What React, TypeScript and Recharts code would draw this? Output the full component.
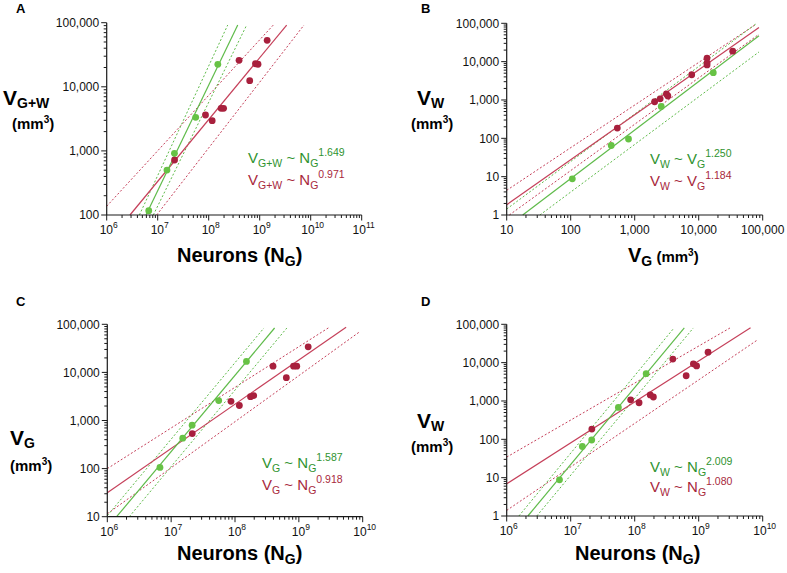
import React from 'react';
import { ScatterChart, Scatter, XAxis, YAxis, ReferenceLine } from 'recharts';

// ---------------- data ----------------
const neuronsGreen = [6.68e6, 1.52e7, 2.13e7, 5.56e7, 1.51e8];
const vgGreen = [106, 430, 800, 2600, 16900];
const vwGreen = [8.8, 65, 96, 680, 5150];
const vgwGreen = [117, 503, 916, 3337, 22400];

const neuronsRed = [2.14e7, 8.65e7, 1.17e8, 1.75e8, 1.96e8, 3.94e8, 6.37e8, 8.26e8, 9.27e8, 1.4e9];
const vgRed = [535, 2500, 2050, 3130, 3300, 13500, 7780, 13500, 13500, 34000];
const vwRed = [185, 1070, 900, 1435, 1270, 12400, 4550, 9300, 8200, 18700];
const vgwRed = [721, 3630, 2960, 4610, 4610, 25850, 12450, 22900, 22500, 53000];

// fit lines and confidence lines: [x, y] endpoints
const A_greenFit = [[5.89e6, 100], [3.71e8, 92000]];
const A_greenLo = [[4.37e6, 100], [2.36e8, 92000]];
const A_greenHi = [[8.2e6, 100], [5.56e8, 92000]];
const A_redFit = [[2.86e6, 100], [3.38e9, 92000]];
const A_redLo = [[1e6, 137], [1.85e9, 92000]];
const A_redHi = [[9.55e6, 100], [7.4e9, 92000]];

const B_greenFit = [[17.8, 1], [87500, 47500]];
const B_greenLo = [[10, 1.43], [79400, 97700]];
const B_greenHi = [[33, 1], [87500, 17900]];
const B_redFit = [[10, 1.85], [87500, 77600]];
const B_redLo = [[10, 4.4], [79400, 95500]];
const B_redHi = [[11, 1], [87500, 51800]];

const C_greenFit = [[1.4e6, 10], [4.17e8, 83800]];
const C_greenLo = [[1e6, 10.5], [2.84e8, 83800]];
const C_greenHi = [[2.21e6, 10], [6.49e8, 83800]];
const C_redFit = [[1e6, 31.6], [5.5e9, 87100]];
const C_redLo = [[1e6, 100], [3.02e9, 87100]];
const C_redHi = [[1e6, 11.5], [8.87e9, 69200]];

const D_greenFit = [[2.14e6, 1], [5.96e8, 80200]];
const D_greenLo = [[1.55e6, 1], [4.11e8, 80200]];
const D_greenHi = [[2.95e6, 1], [8.24e8, 80200]];
const D_redFit = [[1e6, 6.9], [6.46e9, 81300]];
const D_redLo = [[1e6, 34.4], [3.08e9, 80200]];
const D_redHi = [[1e6, 1.4], [8.24e9, 38900]];

// tick labels (major ticks)
const ticksNeuronsA = [1e6, 1e7, 1e8, 1e9, 1e10, 1e11];
const ticksNeurons = [1e6, 1e7, 1e8, 1e9, 1e10];
const ticksVolA = [100, 1000, 10000, 100000];
const ticksVolB_x = [10, 100, 1000, 10000, 100000];
const ticksVolB_y = [1, 10, 100, 1000, 10000, 100000];
const ticksVolC = [10, 100, 1000, 10000, 100000];
const ticksVolD = [1, 10, 100, 1000, 10000, 100000];

// ---------------- styles ----------------
const FONT = '"Liberation Sans", Arial, Helvetica, sans-serif';
const AXIS = '#1a1a1a';
const GREEN_DOT = '#67c245';
const GREEN_LINE = '#5fbb4a';
const GREEN_TEXT = '#2f932f';
const RED_DOT = '#a8203d';
const RED_LINE = '#c5405a';
const RED_TEXT = '#a8283c';

function withMinor(majors: number[]) {
  const out: number[] = [];
  majors.forEach((m, i) => {
    out.push(m);
    if (i < majors.length - 1) for (let k = 2; k < 10; k++) out.push(m * k);
  });
  return out;
}

const isMajor = (v: number) => {
  const lg = Math.log10(v);
  return Math.abs(lg - Math.round(lg)) < 1e-6;
};

const YTick = (props: any) => {
  const { x, y, payload } = props;
  const v = payload.value;
  const major = isMajor(v);
  return (
    <g>
      <line x1={x - (major ? 5.5 : 3)} x2={x} y1={y} y2={y} stroke={AXIS} strokeWidth={1} />
      {major && (
        <text x={x - 7.5} y={y} dy={4.3} textAnchor="end" fontSize={12} fontFamily={FONT} fill="#111">
          {v.toLocaleString('en-US')}
        </text>
      )}
    </g>
  );
};

const XTickPow = (props: any) => {
  const { x, y, payload } = props;
  const v = payload.value;
  const major = isMajor(v);
  return (
    <g>
      <line x1={x} x2={x} y1={y} y2={y + (major ? 5.5 : 3)} stroke={AXIS} strokeWidth={1} />
      {major && (
        <text x={x + 2} y={y + 19} textAnchor="middle" fontSize={12} fontFamily={FONT} fill="#111">
          10<tspan dy={-6} fontSize={8.5}>{Math.round(Math.log10(v))}</tspan>
        </text>
      )}
    </g>
  );
};

const XTickComma = (props: any) => {
  const { x, y, payload } = props;
  const v = payload.value;
  const major = isMajor(v);
  return (
    <g>
      <line x1={x} x2={x} y1={y} y2={y + (major ? 5.5 : 3)} stroke={AXIS} strokeWidth={1} />
      {major && (
        <text x={x} y={y + 19} textAnchor="middle" fontSize={12} fontFamily={FONT} fill="#111">
          {v.toLocaleString('en-US')}
        </text>
      )}
    </g>
  );
};

const dot = (color: string) => (p: any) => <circle cx={p.cx} cy={p.cy} r={3.4} fill={color} />;

type PanelProps = {
  left: number;
  top: number;
  width: number;
  height: number;
  margin: { top: number; right: number; bottom: number; left: number };
  xDomain: [number, number];
  yDomain: [number, number];
  xMajor: number[];
  yMajor: number[];
  xTick: any;
  green: { x: number; y: number }[];
  red: { x: number; y: number }[];
  greenLines: number[][][];
  redLines: number[][][];
};

function seg(s: number[][]) {
  return [{ x: s[0][0], y: s[0][1] }, { x: s[1][0], y: s[1][1] }];
}

function Panel(p: PanelProps) {
  const [gFit, gLo, gHi] = p.greenLines;
  const [rFit, rLo, rHi] = p.redLines;
  return (
    <div style={{ position: 'absolute', left: p.left, top: p.top }}>
      <ScatterChart width={p.width} height={p.height} margin={p.margin}>
        <XAxis
          type="number"
          dataKey="x"
          scale="log"
          domain={p.xDomain}
          allowDataOverflow
          ticks={withMinor(p.xMajor)}
          interval={0}
          tickSize={0}
          tickMargin={0}
          tickLine={false}
          tick={p.xTick}
          height={30}
          axisLine={{ stroke: AXIS, strokeWidth: 1.2 }}
        />
        <YAxis
          type="number"
          dataKey="y"
          scale="log"
          domain={p.yDomain}
          allowDataOverflow
          ticks={withMinor(p.yMajor)}
          interval={0}
          tickSize={0}
          tickMargin={0}
          tickLine={false}
          tick={YTick}
          width={60}
          axisLine={{ stroke: AXIS, strokeWidth: 1.2 }}
        />
        <ReferenceLine segment={seg(rLo)} stroke={RED_LINE} strokeWidth={1} strokeDasharray="2 2" ifOverflow="visible" />
        <ReferenceLine segment={seg(rHi)} stroke={RED_LINE} strokeWidth={1} strokeDasharray="2 2" ifOverflow="visible" />
        <ReferenceLine segment={seg(gLo)} stroke={GREEN_LINE} strokeWidth={1} strokeDasharray="2 2" ifOverflow="visible" />
        <ReferenceLine segment={seg(gHi)} stroke={GREEN_LINE} strokeWidth={1} strokeDasharray="2 2" ifOverflow="visible" />
        <ReferenceLine segment={seg(rFit)} stroke={RED_LINE} strokeWidth={1.2} ifOverflow="visible" />
        <ReferenceLine segment={seg(gFit)} stroke={GREEN_LINE} strokeWidth={1.2} ifOverflow="visible" />
        <Scatter data={p.red} fill={RED_DOT} shape={dot(RED_DOT)} isAnimationActive={false} />
        <Scatter data={p.green} fill={GREEN_DOT} shape={dot(GREEN_DOT)} isAnimationActive={false} />
      </ScatterChart>
    </div>
  );
}

const pts = (xs: number[], ys: number[]) => xs.map((x, i) => ({ x, y: ys[i] }));

const T = { fontFamily: FONT, whiteSpace: 'pre' as const };

function Eq({ x, y, color, lhs, lsub, rhs, rsub, exp }: any) {
  return (
    <text x={x} y={y} fontSize={15} fill={color} style={T}>
      {lhs}
      <tspan fontSize={10.5} dy={4}>{lsub}</tspan>
      <tspan dy={-4}>{' ~ ' + rhs}</tspan>
      <tspan fontSize={10.5} dy={4}>{rsub}</tspan>
      <tspan fontSize={10.5} dy={-11}>{exp}</tspan>
    </text>
  );
}

function YTitle({ x, y, sub, x2, y2 }: any) {
  return (
    <g>
      <text x={x} y={y} fontSize={21} fontWeight="bold" fill="#000" style={T}>
        V<tspan fontSize={14} dy={3}>{sub}</tspan>
      </text>
      <text x={x2} y={y2} fontSize={15} fontWeight="bold" fill="#000" style={T}>
        (mm<tspan fontSize={10} dy={-6}>3</tspan><tspan dy={6}>)</tspan>
      </text>
    </g>
  );
}

function NeuronsTitle({ x, y }: any) {
  return (
    <text x={x} y={y} fontSize={20} fontWeight="bold" fill="#000" style={T}>
      Neurons (N<tspan fontSize={14} dy={4}>G</tspan><tspan dy={-4}>)</tspan>
    </text>
  );
}

export default function App() {
  return (
    <div style={{ position: 'absolute', left: 0, top: 0, width: 787, height: 573, background: '#fff', overflow: 'hidden' }}>
      <Panel
        left={0}
        top={0}
        width={390}
        height={280}
        margin={{ top: 22.7, right: 28.3, bottom: 35, left: 46.7 }}
        xDomain={[1e6, 1e11]}
        yDomain={[100, 100000]}
        xMajor={ticksNeuronsA}
        yMajor={ticksVolA}
        xTick={XTickPow}
        green={pts(neuronsGreen, vgwGreen)}
        red={pts(neuronsRed, vgwRed)}
        greenLines={[A_greenFit, A_greenLo, A_greenHi]}
        redLines={[A_redFit, A_redLo, A_redHi]}
      />
      <Panel
        left={390}
        top={0}
        width={397}
        height={280}
        margin={{ top: 23.3, right: 24.3, bottom: 35, left: 56.7 }}
        xDomain={[10, 100000]}
        yDomain={[1, 100000]}
        xMajor={ticksVolB_x}
        yMajor={ticksVolB_y}
        xTick={XTickComma}
        green={pts(vgGreen, vwGreen)}
        red={pts(vgRed, vwRed)}
        greenLines={[B_greenFit, B_greenLo, B_greenHi]}
        redLines={[B_redFit, B_redLo, B_redHi]}
      />
      <Panel
        left={0}
        top={290}
        width={390}
        height={283}
        margin={{ top: 34.3, right: 27.3, bottom: 26.3, left: 47.3 }}
        xDomain={[1e6, 1e10]}
        yDomain={[10, 100000]}
        xMajor={ticksNeurons}
        yMajor={ticksVolC}
        xTick={XTickPow}
        green={pts(neuronsGreen, vgGreen)}
        red={pts(neuronsRed, vgRed)}
        greenLines={[C_greenFit, C_greenLo, C_greenHi]}
        redLines={[C_redFit, C_redLo, C_redHi]}
      />
      <Panel
        left={390}
        top={290}
        width={397}
        height={283}
        margin={{ top: 34.3, right: 24.3, bottom: 27, left: 56.7 }}
        xDomain={[1e6, 1e10]}
        yDomain={[1, 100000]}
        xMajor={ticksNeurons}
        yMajor={ticksVolD}
        xTick={XTickPow}
        green={pts(neuronsGreen, vwGreen)}
        red={pts(neuronsRed, vwRed)}
        greenLines={[D_greenFit, D_greenLo, D_greenHi]}
        redLines={[D_redFit, D_redLo, D_redHi]}
      />
      <svg width={787} height={573} style={{ position: 'absolute', left: 0, top: 0, pointerEvents: 'none' }}>
        <g fontFamily={FONT}>
          <text x={16} y={12.5} fontSize={13} fontWeight="bold" style={T}>A</text>
          <text x={421} y={12.5} fontSize={13} fontWeight="bold" style={T}>B</text>
          <text x={16} y={306} fontSize={13} fontWeight="bold" style={T}>C</text>
          <text x={421} y={306} fontSize={13} fontWeight="bold" style={T}>D</text>

          <YTitle x={3} y={105} sub="G+W" x2={12} y2={129} />
          <YTitle x={417} y={105} sub="W" x2={411} y2={129} />
          <YTitle x={10} y={444.5} sub="G" x2={10} y2={470.5} />
          <YTitle x={417} y={427.5} sub="W" x2={411} y2={451.5} />

          <NeuronsTitle x={177} y={262} />
          <NeuronsTitle x={177} y={560} />
          <NeuronsTitle x={575} y={560} />
          <text x={628} y={262} fontSize={20} fontWeight="bold" fill="#000" style={T}>
            V<tspan fontSize={14} dy={4}>G</tspan>
            <tspan fontSize={15} dy={-4}>{' (mm'}</tspan>
            <tspan fontSize={10} dy={-6}>3</tspan>
            <tspan fontSize={15} dy={6}>)</tspan>
          </text>

          <Eq x={248} y={162.5} color={GREEN_TEXT} lhs="V" lsub="G+W" rhs="N" rsub="G" exp="1.649" />
          <Eq x={248} y={184.5} color={RED_TEXT} lhs="V" lsub="G+W" rhs="N" rsub="G" exp="0.971" />
          <Eq x={650} y={164} color={GREEN_TEXT} lhs="V" lsub="W" rhs="V" rsub="G" exp="1.250" />
          <Eq x={650} y={186} color={RED_TEXT} lhs="V" lsub="W" rhs="V" rsub="G" exp="1.184" />
          <Eq x={262} y={467.5} color={GREEN_TEXT} lhs="V" lsub="G" rhs="N" rsub="G" exp="1.587" />
          <Eq x={262} y={490} color={RED_TEXT} lhs="V" lsub="G" rhs="N" rsub="G" exp="0.918" />
          <Eq x={650} y={471.5} color={GREEN_TEXT} lhs="V" lsub="W" rhs="N" rsub="G" exp="2.009" />
          <Eq x={650} y={492} color={RED_TEXT} lhs="V" lsub="W" rhs="N" rsub="G" exp="1.080" />
        </g>
      </svg>
    </div>
  );
}
